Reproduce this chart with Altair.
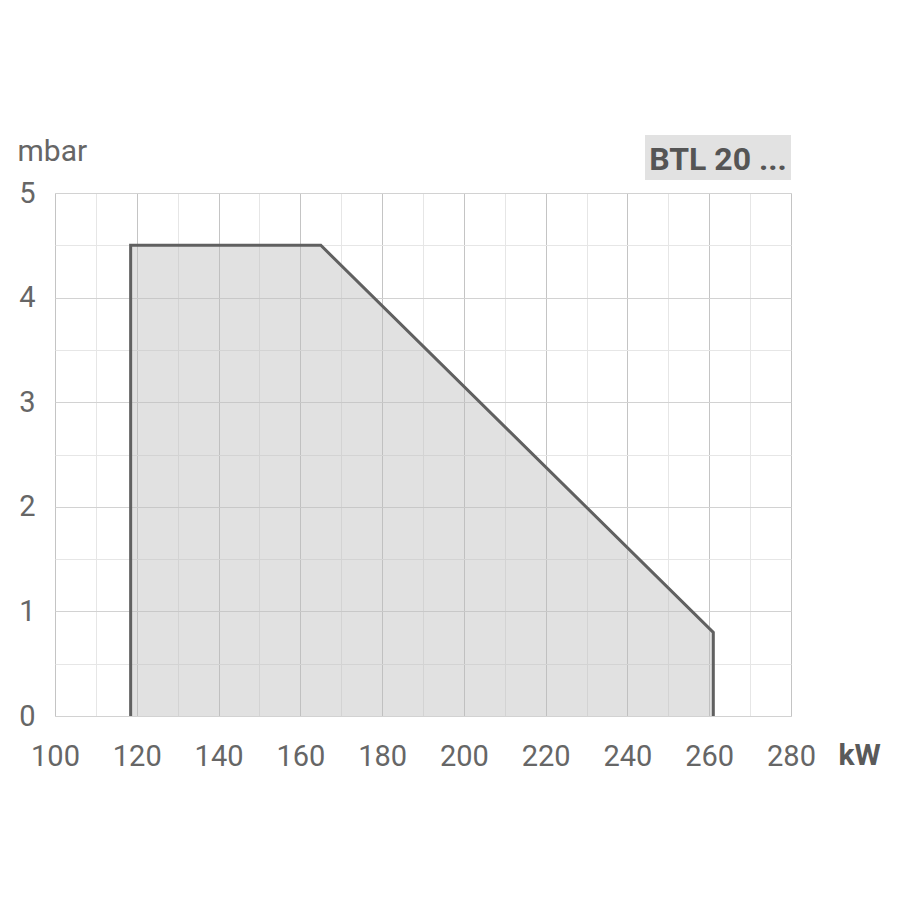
import altair as alt
import pandas as pd

# Envelope of the operating range (kW, mbar)
env_kw = [118.5, 118.5, 165, 261, 261]
env_mbar = [0, 4.5, 4.5, 0.8, 0]
env_order = [0, 1, 2, 3, 4]

label_text = ["BTL 20 ..."]

x_ticks = list(range(100, 281, 5))
y_ticks = [i * 0.5 for i in range(11)]

df = pd.DataFrame({"kW": env_kw, "mbar": env_mbar, "o": env_order})
df_area = df.iloc[1:4].reset_index(drop=True)

FONT = "Roboto"
GREY = "#666666"

xscale = alt.Scale(domain=[100, 280], nice=False, zero=False)
yscale = alt.Scale(domain=[0, 5], nice=False)

xaxis = alt.Axis(
    values=x_ticks,
    labelExpr="datum.value % 20 === 0 ? format(datum.value, 'd') : ''",
    grid=True,
    gridColor={"condition": {"test": "datum.value % 20 === 0", "value": "#c4c4c4"}, "value": "#e6e6e6"},
    gridWidth=1,
    ticks=False,
    domain=False,
    labelFont=FONT,
    labelFontSize=29,
    labelColor=GREY,
    labelPadding=26,
    labelFlush=False,
    labelOverlap=False,
    title="kW",
    titleFont=FONT,
    titleFontSize=30,
    titleFontWeight="bold",
    titleColor="#5a5a5a",
    titleAlign="left",
    titleBaseline="alphabetic",
    titleX=783,
    titleY=48,
)

yaxis = alt.Axis(
    values=y_ticks,
    labelExpr="datum.value % 1 === 0 ? format(datum.value, 'd') : ''",
    grid=True,
    gridColor={"condition": {"test": "datum.value % 1 === 0", "value": "#d2d2d2"}, "value": "#e6e6e6"},
    gridWidth=1,
    ticks=False,
    domain=False,
    labelFont=FONT,
    labelFontSize=29,
    labelColor=GREY,
    labelPadding=20,
    labelBaseline="middle",
    labelFlush=False,
    labelOverlap=False,
    title="mbar",
    titleFont=FONT,
    titleFontSize=30,
    titleFontWeight="normal",
    titleColor=GREY,
    titleAngle=0,
    titleAlign="left",
    titleBaseline="alphabetic",
    titleX=-38,
    titleY=-33,
)

area = alt.Chart(df_area).mark_area(color="#bdbdbd", opacity=0.45).encode(
    x=alt.X("kW:Q", scale=xscale, axis=xaxis),
    y=alt.Y("mbar:Q", scale=yscale, axis=yaxis),
)

line = alt.Chart(df).mark_line(color="#606060", strokeWidth=3, strokeJoin="miter").encode(
    x=alt.X("kW:Q", scale=xscale),
    y=alt.Y("mbar:Q", scale=yscale),
    order="o:Q",
)

box = alt.Chart(pd.DataFrame({"t": label_text})).mark_rect(color="#e2e2e2").encode(
    x=alt.value(590), x2=alt.value(736), y=alt.value(-58), y2=alt.value(-13)
)
txt = alt.Chart(pd.DataFrame({"t": label_text})).mark_text(
    font=FONT, fontSize=32, fontWeight="bold", color="#555555", align="center", baseline="alphabetic"
).encode(x=alt.value(663), y=alt.value(-23), text="t:N")

chart = alt.layer(area, line, box, txt).properties(
    width=736,
    height=523,
    autosize=alt.AutoSizeParams(type="none"),
    padding={"left": 47, "top": 185, "right": 100, "bottom": 100},
).configure_view(stroke="#cccccc", strokeWidth=1).configure(background="white")

chart.save("out.html", embed_options={"renderer": "svg", "actions": False})
